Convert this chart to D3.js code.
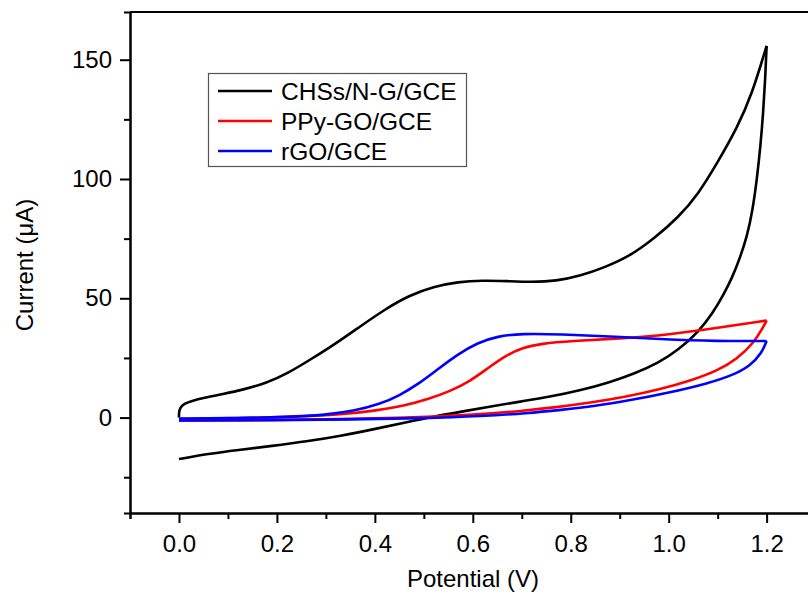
<!DOCTYPE html>
<html>
<head>
<meta charset="utf-8">
<script src="https://cdn.jsdelivr.net/npm/d3@7"></script>
<style>
  body { margin: 0; background: #fff; }
  svg { display: block; font-family: "Liberation Sans", Arial, sans-serif; }
  .axis path, .axis line { stroke: #000; stroke-width: 2; }
  .axis text { font-size: 24px; fill: #000; }
</style>
</head>
<body>
<script>
const WIDTH = 808
const HEIGHT = 599

// x tick values (V) and y tick values (uA)
const xMajor = [0, 0.2, 0.4, 0.6, 0.8, 1.0, 1.2]
const xMinor = [-0.1, 0.1, 0.3, 0.5, 0.7, 0.9, 1.1, 1.3]
const yMajor = [0, 50, 100, 150]
const yMinor = [-25, 25, 75, 125]

const seriesNames = ["CHSs/N-G/GCE", "PPy-GO/GCE", "rGO/GCE"]
const seriesColors = ["#000000", "#ff0000", "#0000ff"]

// [potential V, current uA] - forward (anodic) and reverse (cathodic) scans
const chssForward = [[0, 0], [0, 2.5], [0.003, 4.4], [0.012, 5.9], [0.025, 6.9], [0.05, 8.3],
  [0.09, 9.9], [0.13, 11.6], [0.18, 14.6], [0.22, 18.3], [0.27, 24.5], [0.32, 31],
  [0.37, 38.2], [0.42, 45.3], [0.47, 51.2], [0.52, 54.9], [0.57, 56.9], [0.62, 57.5],
  [0.67, 57.2], [0.72, 56.8], [0.77, 57.2], [0.82, 59.4], [0.87, 63], [0.92, 67.6],
  [0.97, 75], [1.02, 84], [1.06, 93.5], [1.1, 107], [1.14, 121.5], [1.17, 135.5], [1.2, 155.8]]
const chssReverse = [[1.2, 155.8], [1.197, 141.5], [1.193, 128], [1.188, 115], [1.18, 99.6],
  [1.171, 86.5], [1.16, 76], [1.146, 67.2], [1.13, 58.8], [1.112, 51.5], [1.09, 43.8],
  [1.06, 35.7], [1.02, 28.4], [0.98, 23], [0.93, 18.4], [0.88, 14.8], [0.82, 11.4],
  [0.76, 8.8], [0.7, 6.8], [0.64, 4.8], [0.58, 2.6], [0.52, 0.4], [0.46, -2.2],
  [0.4, -4.8], [0.33, -7.7], [0.26, -10], [0.19, -11.9], [0.12, -13.6], [0.06, -15.2], [0, -17.4]]

const ppyForward = [[0, -0.5], [0.12, -0.3], [0.25, 0.4], [0.33, 1.3], [0.4, 2.8],
  [0.46, 4.9], [0.51, 7.8], [0.555, 11.2], [0.595, 15.3], [0.63, 20.6], [0.665, 25.7],
  [0.7, 29.2], [0.74, 31], [0.8, 32.1], [0.9, 33.1], [1.0, 34.7], [1.1, 37.6], [1.2, 40.7]]
const ppyReverse = [[1.2, 40.7], [1.19, 36.8], [1.173, 31.2], [1.14, 24.6], [1.1, 19.7],
  [1.05, 15.8], [0.98, 11.7], [0.91, 8.6], [0.84, 6.2], [0.77, 4.3], [0.7, 2.8],
  [0.64, 1.8], [0.57, 0.8], [0.45, -0.2], [0.3, -0.8], [0.15, -1.1], [0, -1.2]]

const rgoForward = [[0, -0.4], [0.12, -0.2], [0.22, 0.2], [0.3, 1.1], [0.36, 2.9],
  [0.41, 5.6], [0.45, 9.2], [0.49, 14.2], [0.53, 20.5], [0.57, 26.6], [0.61, 31.4],
  [0.65, 34.1], [0.7, 35.2], [0.78, 34.9], [0.88, 34], [0.98, 32.9], [1.1, 32], [1.2, 32.1]]
const rgoReverse = [[1.2, 32.1], [1.19, 27], [1.166, 21.6], [1.13, 17.7], [1.08, 14.3],
  [1.0, 10.4], [0.92, 7.2], [0.85, 4.8], [0.78, 3.2], [0.71, 1.8], [0.62, 0.6],
  [0.5, -0.3], [0.35, -0.8], [0.18, -1.1], [0, -1.2]]

const seriesData = [
  [chssForward, chssReverse],
  [ppyForward, ppyReverse],
  [rgoForward, rgoReverse]
]

var svg = d3.select("body").append("svg")
    .attr("width", WIDTH)
    .attr("height", HEIGHT)

var x = d3.scaleLinear().domain([-0.1, 1.3]).range([130, 815.6])
var y = d3.scaleLinear().domain([-40, 170]).range([513, 12])

// frame top / right
svg.append("line")
    .attr("x1", x(-0.1)).attr("x2", x(1.3))
    .attr("y1", y(170)).attr("y2", y(170))
    .attr("stroke", "#000").attr("stroke-width", 2)
svg.append("line")
    .attr("x1", x(1.3)).attr("x2", x(1.3))
    .attr("y1", y(170)).attr("y2", y(-40))
    .attr("stroke", "#000").attr("stroke-width", 2)

// minor ticks
svg.append("g").attr("class", "axis")
    .attr("transform", "translate(0," + y(-40) + ")")
    .call(d3.axisBottom(x).tickValues(xMinor).tickSize(6).tickFormat(""))
svg.append("g").attr("class", "axis")
    .attr("transform", "translate(" + x(-0.1) + ",0)")
    .call(d3.axisLeft(y).tickValues(yMinor).tickSize(6).tickFormat(""))

// major axes
svg.append("g").attr("class", "axis")
    .attr("transform", "translate(0," + y(-40) + ")")
    .call(d3.axisBottom(x).tickValues(xMajor).tickSize(10).tickSizeOuter(0).tickPadding(12).tickFormat(d3.format(".1f")))
svg.append("g").attr("class", "axis")
    .attr("transform", "translate(" + x(-0.1) + ",0)")
    .call(d3.axisLeft(y).tickValues(yMajor).tickSize(10).tickSizeOuter(0).tickPadding(8).tickFormat(d3.format("d")))

// axis titles
svg.append("text")
    .attr("x", 473).attr("y", 587)
    .attr("text-anchor", "middle")
    .style("font-size", "24px")
    .text("Potential (V)")
svg.append("text")
    .attr("transform", "translate(33,265) rotate(-90)")
    .attr("text-anchor", "middle")
    .style("font-size", "24px")
    .text("Current (\u03bcA)")

// curves
var line = d3.line()
    .x(d => x(d[0]))
    .y(d => y(d[1]))
    .curve(d3.curveBasis)

seriesData.forEach(function(branches, i){
    branches.forEach(function(b){
        svg.append("path")
            .datum(b)
            .attr("d", line)
            .attr("fill", "none")
            .attr("stroke", seriesColors[i])
            .attr("stroke-width", 2.6)
            .attr("stroke-linejoin", "round")
    })
})

// legend
var legend = svg.append("g")
legend.append("rect")
    .attr("x", 208.5).attr("y", 73.5)
    .attr("width", 258).attr("height", 93)
    .attr("fill", "#fff")
    .attr("stroke", "#555").attr("stroke-width", 1.2)

seriesNames.forEach(function(name, i){
    var cy = 91 + i * 30
    legend.append("line")
        .attr("x1", 218).attr("x2", 272)
        .attr("y1", cy).attr("y2", cy)
        .attr("stroke", seriesColors[i]).attr("stroke-width", 2.6)
    legend.append("text")
        .attr("x", 281).attr("y", cy + 8.5)
        .style("font-size", "24.5px")
        .text(name)
})
</script>
</body>
</html>
